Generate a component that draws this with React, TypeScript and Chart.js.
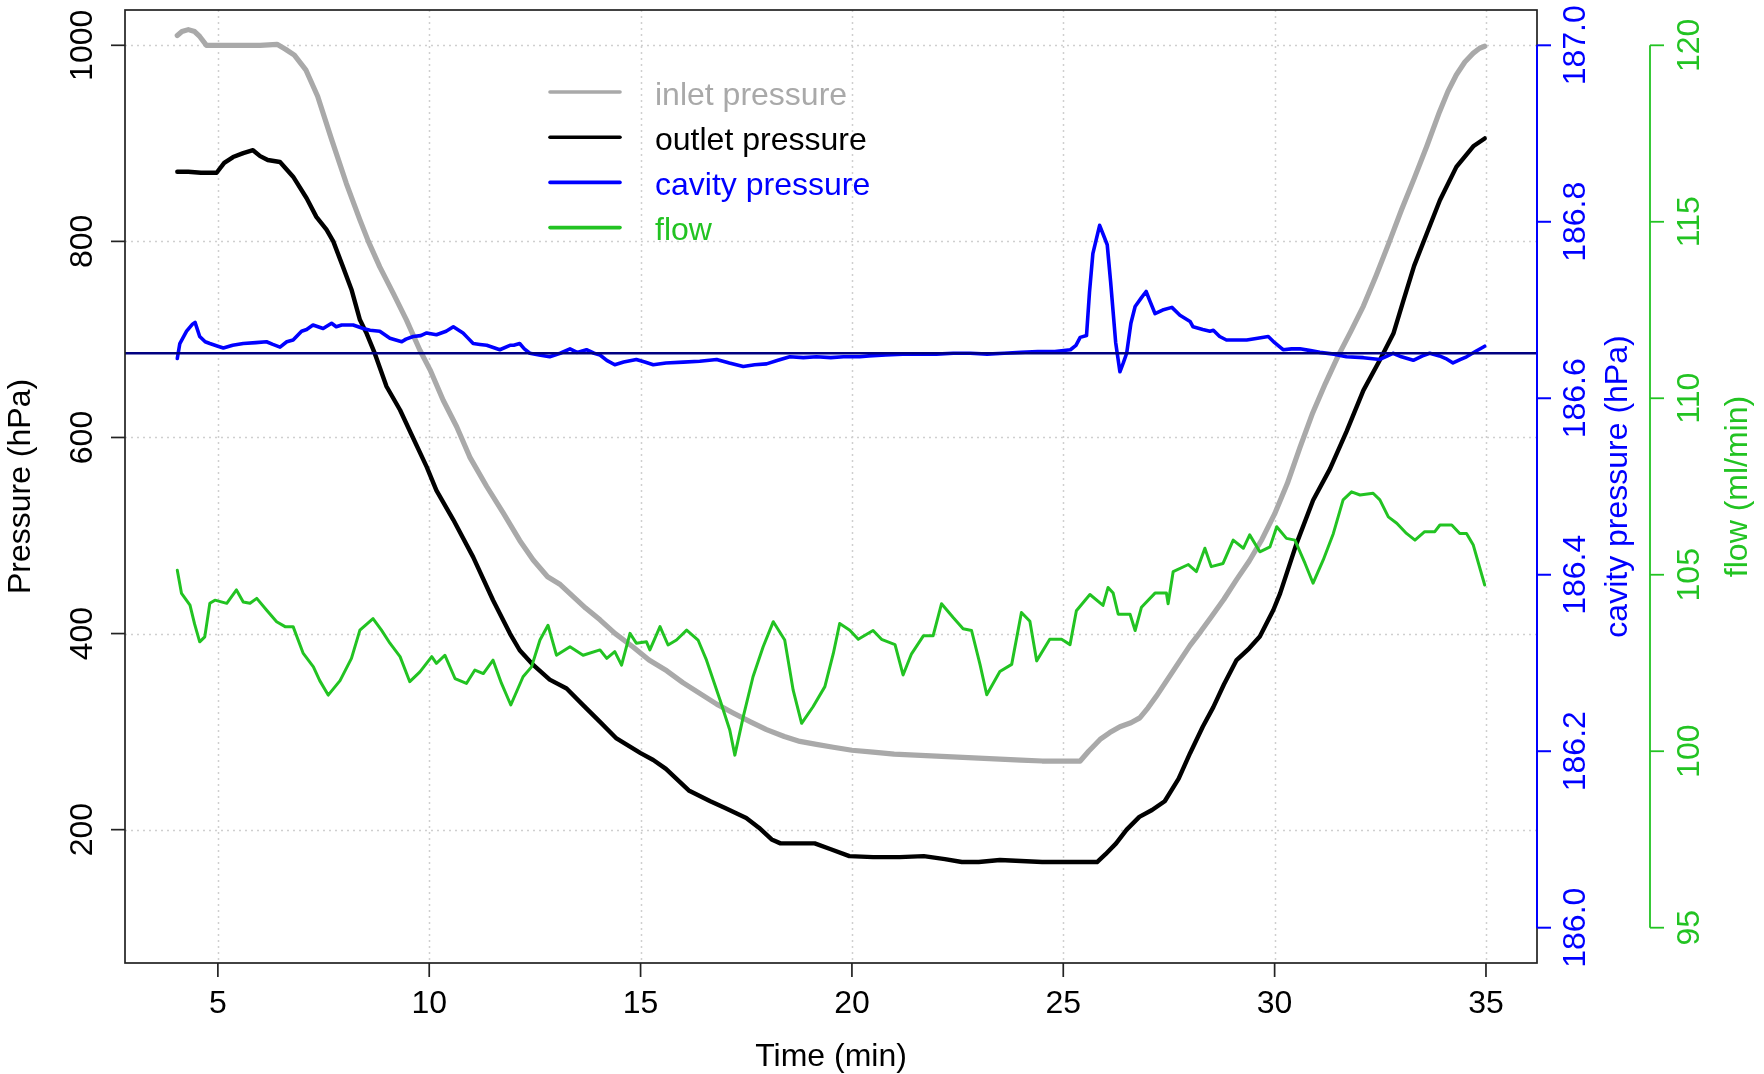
import React, { useEffect, useRef } from 'react';
import { Chart, registerables } from 'chart.js';

Chart.register(...registerables);

// ---------- data (time in min, value) ----------
const inletReadings: [number, number][] = [
  [4.04, 1010], [4.15, 1014], [4.3, 1016], [4.45, 1014], [4.57, 1009], [4.73, 1000], [5.0, 1000],
  [5.5, 1000], [6.0, 1000], [6.4, 1001], [6.6, 996], [6.81, 990], [7.08, 975], [7.36, 948],
  [7.69, 904], [8.04, 859], [8.36, 822], [8.56, 800], [8.83, 774], [9.15, 747], [9.46, 720],
  [9.78, 689], [10.02, 669], [10.33, 638], [10.65, 611], [10.96, 580], [11.36, 550], [11.75, 523],
  [12.14, 495], [12.46, 475], [12.8, 458],
  [13.1, 450], [13.4, 438], [13.7, 426], [14.04, 414], [14.4, 400], [14.83, 386], [15.2, 373],
  [15.62, 362], [16.0, 350], [16.4, 339], [16.8, 328], [17.19, 319], [17.6, 310], [17.98, 302],
  [18.4, 295], [18.77, 290], [19.16, 287], [19.56, 284], [20.0, 281], [20.5, 279], [21.0, 277],
  [21.5, 276], [22.0, 275], [22.5, 274], [23.0, 273], [23.5, 272], [24.0, 271], [24.5, 270],
  [25.0, 270], [25.4, 270], [25.6, 280], [25.87, 292], [26.1, 299], [26.34, 305], [26.6, 309],
  [26.81, 314], [27.0, 324], [27.2, 336], [27.4, 349], [27.6, 362], [27.8, 375], [28.0, 388],
  [28.25, 402], [28.5, 417], [28.8, 435], [29.1, 455], [29.4, 474], [29.7, 496], [30.0, 522],
  [30.3, 553], [30.6, 590], [30.9, 625], [31.2, 655], [31.5, 683], [31.8, 708], [32.1, 734],
  [32.4, 765], [32.7, 798], [33.0, 832], [33.3, 864], [33.6, 897], [33.9, 932], [34.1, 953],
  [34.3, 970], [34.5, 983], [34.7, 992], [34.85, 997], [34.97, 999],
];

const outletReadings: [number, number][] = [
  [4.04, 871], [4.3, 871], [4.6, 870], [4.97, 870], [5.15, 880], [5.36, 886], [5.6, 890],
  [5.83, 893], [6.0, 887], [6.18, 883], [6.47, 881], [6.78, 866], [7.1, 844], [7.33, 825],
  [7.57, 812], [7.73, 800], [7.96, 774], [8.16, 751], [8.36, 720], [8.52, 706], [8.71, 686],
  [8.99, 652], [9.31, 628], [9.58, 603], [9.94, 570], [10.17, 546], [10.57, 516], [11.04, 478],
  [11.51, 434],
  [11.91, 400], [12.14, 383], [12.46, 368], [12.85, 353], [13.25, 344], [13.64, 327], [14.04, 310],
  [14.43, 293], [15.0, 278], [15.3, 271], [15.6, 262], [16.14, 240], [16.65, 229], [17.0, 222],
  [17.5, 212], [17.8, 202], [18.1, 190], [18.31, 186], [19.12, 186], [19.5, 180], [19.94, 173],
  [20.5, 172], [21.13, 172], [21.7, 173], [22.2, 170], [22.6, 167], [23.0, 167], [23.5, 169],
  [24.0, 168], [24.5, 167], [25.0, 167], [25.5, 167], [25.8, 167], [26.0, 175], [26.25, 186],
  [26.5, 200], [26.8, 213], [27.1, 220], [27.4, 229], [27.73, 252], [28.0, 278], [28.3, 305],
  [28.55, 325], [28.8, 348], [29.1, 373], [29.4, 385], [29.65, 397], [29.97, 424], [30.13, 441],
  [30.52, 492], [30.91, 536], [31.31, 568], [31.7, 606], [32.1, 648], [32.49, 679], [32.81, 706],
  [33.05, 740], [33.3, 775], [33.6, 808], [33.91, 842], [34.3, 876], [34.7, 897], [34.97, 905],
];

const cavityReadings: [number, number][] = [
  [4.04, 186.645], [4.1, 186.662], [4.26, 186.676], [4.4, 186.684], [4.46, 186.686], [4.57, 186.670],
  [4.7, 186.664], [4.81, 186.662], [5.0, 186.659], [5.13, 186.657], [5.35, 186.660], [5.6, 186.662],
  [5.9, 186.663], [6.15, 186.664], [6.3, 186.661], [6.47, 186.658], [6.63, 186.664], [6.78, 186.666],
  [6.98, 186.676], [7.1, 186.678], [7.25, 186.683], [7.49, 186.679], [7.69, 186.685], [7.8, 186.681],
  [7.93, 186.683], [8.2, 186.683], [8.44, 186.679], [8.6, 186.677], [8.83, 186.676], [8.95, 186.672],
  [9.07, 186.668], [9.35, 186.664], [9.45, 186.667], [9.62, 186.670], [9.8, 186.671], [9.94, 186.674],
  [10.17, 186.672], [10.4, 186.676], [10.57, 186.681], [10.8, 186.674], [10.9, 186.669], [11.04, 186.662],
  [11.2, 186.661], [11.36, 186.660], [11.67, 186.655], [11.91, 186.660], [12.0, 186.660], [12.14, 186.662],
  [12.25, 186.656], [12.38, 186.651], [12.6, 186.649], [12.85, 186.647], [13.1, 186.651], [13.33, 186.656],
  [13.5, 186.652], [13.72, 186.655], [13.9, 186.651], [14.04, 186.649], [14.2, 186.643], [14.39, 186.638],
  [14.6, 186.641], [14.9, 186.644], [15.1, 186.641], [15.3, 186.638], [15.6, 186.640], [16.01, 186.641],
  [16.4, 186.642], [16.8, 186.644], [17.1, 186.640], [17.43, 186.636], [17.7, 186.638], [17.98, 186.639],
  [18.25, 186.643], [18.53, 186.647], [18.85, 186.646], [19.16, 186.647], [19.5, 186.646], [19.8, 186.647],
  [20.19, 186.647], [20.4, 186.648], [20.8, 186.649], [21.2, 186.650], [21.6, 186.650], [22.0, 186.650],
  [22.4, 186.651], [22.8, 186.651], [23.2, 186.650], [23.6, 186.651], [24.0, 186.652], [24.4, 186.653],
  [24.8, 186.653], [25.17, 186.655], [25.3, 186.660], [25.4, 186.669], [25.55, 186.671], [25.62, 186.720],
  [25.7, 186.764], [25.86, 186.796], [25.95, 186.785], [26.04, 186.774], [26.12, 186.732], [26.24, 186.663],
  [26.34, 186.630], [26.42, 186.640], [26.5, 186.651], [26.6, 186.685], [26.7, 186.704], [26.85, 186.714],
  [26.96, 186.721], [27.05, 186.710], [27.17, 186.696], [27.35, 186.700], [27.57, 186.703], [27.76, 186.694],
  [28.0, 186.687], [28.07, 186.681], [28.3, 186.678], [28.47, 186.676], [28.55, 186.677], [28.7, 186.670],
  [28.86, 186.666], [29.1, 186.666], [29.34, 186.666], [29.6, 186.668], [29.85, 186.670], [30.0, 186.663],
  [30.2, 186.655], [30.4, 186.656], [30.6, 186.656], [30.85, 186.654], [31.07, 186.652], [31.4, 186.650],
  [31.7, 186.647], [32.1, 186.646], [32.49, 186.644], [32.8, 186.651], [33.0, 186.647], [33.28, 186.643],
  [33.5, 186.648], [33.67, 186.651], [33.9, 186.648], [34.05, 186.645], [34.22, 186.640], [34.4, 186.644],
  [34.54, 186.647], [34.75, 186.653], [34.97, 186.659],
];

const flowReadings: [number, number][] = [
  [4.04, 105.13], [4.14, 104.47], [4.34, 104.14], [4.45, 103.6], [4.57, 103.1], [4.69, 103.24],
  [4.81, 104.19], [4.93, 104.28], [5.21, 104.19], [5.44, 104.57], [5.6, 104.23], [5.76, 104.19],
  [5.92, 104.33], [6.15, 104.0], [6.39, 103.67], [6.59, 103.53], [6.78, 103.53], [7.02, 102.77],
  [7.26, 102.39], [7.41, 102.0], [7.61, 101.59], [7.89, 102.0], [8.16, 102.63], [8.36, 103.43],
  [8.67, 103.76], [8.87, 103.43], [9.07, 103.06], [9.31, 102.68], [9.54, 101.97], [9.78, 102.25],
  [10.06, 102.68], [10.17, 102.49], [10.37, 102.72], [10.61, 102.06], [10.88, 101.92], [11.08, 102.3],
  [11.28, 102.2], [11.51, 102.58], [11.71, 101.92], [11.93, 101.31], [12.22, 102.11], [12.42, 102.39],
  [12.62, 103.15], [12.81, 103.57], [13.01, 102.72], [13.33, 102.96], [13.64, 102.72], [14.04, 102.87],
  [14.2, 102.63], [14.39, 102.82], [14.55, 102.44], [14.75, 103.34], [14.9, 103.06], [15.14, 103.1],
  [15.22, 102.87], [15.46, 103.53], [15.65, 103.01], [15.85, 103.15], [16.09, 103.43], [16.36, 103.15],
  [16.56, 102.58], [16.88, 101.45], [17.11, 100.6], [17.23, 99.89], [17.43, 100.98], [17.66, 102.11],
  [17.9, 102.96], [18.14, 103.67], [18.41, 103.15], [18.61, 101.73], [18.81, 100.79], [19.08, 101.26],
  [19.36, 101.83], [19.56, 102.77], [19.71, 103.62], [19.95, 103.43], [20.15, 103.17], [20.5, 103.42],
  [20.7, 103.17], [21.02, 103.02], [21.21, 102.16], [21.41, 102.76], [21.69, 103.27], [21.92, 103.27],
  [22.12, 104.18], [22.4, 103.78], [22.63, 103.47], [22.83, 103.42], [23.03, 102.46], [23.19, 101.6],
  [23.5, 102.26], [23.78, 102.46], [24.01, 103.93], [24.21, 103.68], [24.37, 102.56], [24.68, 103.17],
  [24.96, 103.17], [25.16, 103.02], [25.31, 103.98], [25.63, 104.44], [25.94, 104.13], [26.06, 104.64],
  [26.18, 104.48], [26.3, 103.88], [26.58, 103.88], [26.7, 103.42], [26.85, 104.08], [27.17, 104.48],
  [27.44, 104.48], [27.48, 104.18], [27.6, 105.09], [27.96, 105.29], [28.15, 105.09], [28.35, 105.75],
  [28.5, 105.23], [28.78, 105.32], [29.02, 105.98], [29.26, 105.75], [29.41, 106.13], [29.65, 105.65],
  [29.89, 105.79], [30.05, 106.36], [30.28, 106.03], [30.48, 105.98], [30.72, 105.32], [30.91, 104.76],
  [31.15, 105.42], [31.39, 106.17], [31.62, 107.12], [31.82, 107.35], [32.02, 107.26], [32.33, 107.31],
  [32.49, 107.12], [32.69, 106.64], [32.89, 106.46], [33.12, 106.17], [33.32, 105.98], [33.55, 106.22],
  [33.79, 106.22], [33.91, 106.41], [34.19, 106.41], [34.38, 106.17], [34.54, 106.17], [34.7, 105.84],
  [34.97, 104.71],
];

const cavityReference = 186.651;

const timeRange: [number, number] = [4.04, 34.97];
const pressureRange: [number, number] = [100, 1000];
const cavityRange: [number, number] = [186, 187];
const flowRange: [number, number] = [95, 120];

const timeTicks = [5, 10, 15, 20, 25, 30, 35];
const pressureTicks = [200, 400, 600, 800, 1000];
const cavityTicks = [186.0, 186.2, 186.4, 186.6, 186.8, 187.0];
const flowTicks = [95, 100, 105, 110, 115, 120];

const seriesNames = ['inlet pressure', 'outlet pressure', 'cavity pressure', 'flow'];
const axisTitles = { x: 'Time (min)', y: 'Pressure (hPa)', cavity: 'cavity pressure (hPa)', flow: 'flow (ml/min)' };

// ---------- styles ----------
const W = 1764;
const H = 1074;
const GRAY = '#A9A9A9';
const BLACK = '#000000';
const BLUE = '#0000FF';
const GREEN = '#22C322';
const NAVY = '#000080';
const seriesColors = [GRAY, BLACK, BLUE, GREEN];
const FONT = '32px "Liberation Sans", Arial, Helvetica, sans-serif';

const padRange = (r: [number, number]) => {
  const d = (r[1] - r[0]) * 0.04;
  return { min: r[0] - d, max: r[1] + d };
};

const toPoints = (rows: [number, number][]) => rows.map(([x, y]) => ({ x, y }));

const fixedTicks = (values: number[]) => (scale: any) => {
  scale.ticks = values.map((value) => ({ value }));
};

function rotatedText(ctx: CanvasRenderingContext2D, text: string, x: number, y: number, color: string) {
  ctx.save();
  ctx.translate(x, y);
  ctx.rotate(-Math.PI / 2);
  ctx.fillStyle = color;
  ctx.textAlign = 'center';
  ctx.textBaseline = 'alphabetic';
  ctx.fillText(text, 0, 0);
  ctx.restore();
}

const rStylePlugin = {
  id: 'rStyle',
  beforeDatasetsDraw(chart: any) {
    const { ctx, chartArea: a, scales } = chart;
    ctx.save();
    ctx.strokeStyle = '#CFCFCF';
    ctx.lineWidth = 1.5;
    ctx.setLineDash([2, 4]);
    for (const t of scales.x.ticks) {
      const px = Math.round(scales.x.getPixelForValue(t.value)) + 0.5;
      ctx.beginPath(); ctx.moveTo(px, a.top); ctx.lineTo(px, a.bottom); ctx.stroke();
    }
    for (const t of scales.y.ticks) {
      const py = Math.round(scales.y.getPixelForValue(t.value)) + 0.5;
      ctx.beginPath(); ctx.moveTo(a.left, py); ctx.lineTo(a.right, py); ctx.stroke();
    }
    ctx.restore();
  },
  afterDatasetDraw(chart: any, args: any) {
    if (args.meta.yAxisID !== 'yCav') return;
    const { ctx, chartArea: a, scales } = chart;
    const py = scales.yCav.getPixelForValue(cavityReference);
    ctx.save();
    ctx.strokeStyle = NAVY;
    ctx.lineWidth = 2.5;
    ctx.beginPath(); ctx.moveTo(a.left, py); ctx.lineTo(a.right, py); ctx.stroke();
    ctx.restore();
  },
  afterDraw(chart: any) {
    const { ctx, chartArea: a, scales } = chart;
    const midY = (a.top + a.bottom) / 2;
    ctx.save();
    ctx.font = FONT;
    // box
    ctx.strokeStyle = '#222222';
    ctx.lineWidth = 1.7;
    ctx.strokeRect(a.left, a.top, a.right - a.left, a.bottom - a.top);

    // x axis
    ctx.fillStyle = BLACK;
    ctx.textAlign = 'center';
    ctx.textBaseline = 'alphabetic';
    for (const t of scales.x.ticks) {
      const px = scales.x.getPixelForValue(t.value);
      ctx.beginPath(); ctx.moveTo(px, a.bottom); ctx.lineTo(px, a.bottom + 14); ctx.stroke();
      ctx.fillText(String(t.value), px, a.bottom + 50);
    }
    ctx.fillText(axisTitles.x, (a.left + a.right) / 2, a.bottom + 103);

    // left y axis
    for (const t of scales.y.ticks) {
      const py = scales.y.getPixelForValue(t.value);
      ctx.beginPath(); ctx.moveTo(a.left - 14, py); ctx.lineTo(a.left, py); ctx.stroke();
      rotatedText(ctx, String(t.value), a.left - 33, py, BLACK);
    }
    rotatedText(ctx, axisTitles.y, a.left - 95, midY, BLACK);

    // cavity axis (right, on the box)
    const cav = scales.yCav;
    const cTop = cav.getPixelForValue(cavityRange[1]);
    const cBot = cav.getPixelForValue(cavityRange[0]);
    ctx.strokeStyle = BLUE;
    ctx.lineWidth = 2;
    ctx.beginPath(); ctx.moveTo(a.right, cTop); ctx.lineTo(a.right, cBot); ctx.stroke();
    for (const t of cav.ticks) {
      const py = cav.getPixelForValue(t.value);
      ctx.beginPath(); ctx.moveTo(a.right, py); ctx.lineTo(a.right + 14, py); ctx.stroke();
      rotatedText(ctx, Number(t.value).toFixed(1), a.right + 48, py, BLUE);
    }
    rotatedText(ctx, axisTitles.cavity, a.right + 90, midY, BLUE);

    // flow axis (further right)
    const fl = scales.yFlow;
    const fx = a.right + 113;
    const fTop = fl.getPixelForValue(flowRange[1]);
    const fBot = fl.getPixelForValue(flowRange[0]);
    ctx.strokeStyle = GREEN;
    ctx.lineWidth = 1.8;
    ctx.beginPath(); ctx.moveTo(fx, fTop); ctx.lineTo(fx, fBot); ctx.stroke();
    for (const t of fl.ticks) {
      const py = fl.getPixelForValue(t.value);
      ctx.beginPath(); ctx.moveTo(fx, py); ctx.lineTo(fx + 14, py); ctx.stroke();
      rotatedText(ctx, String(t.value), fx + 49, py, GREEN);
    }
    rotatedText(ctx, axisTitles.flow, fx + 97, midY, GREEN);

    // legend
    const lx = 550, ly = 92, step = 45.2;
    ctx.textAlign = 'left';
    ctx.textBaseline = 'alphabetic';
    ctx.lineCap = 'round';
    seriesNames.forEach((name, i) => {
      const y = ly + i * step;
      ctx.strokeStyle = seriesColors[i];
      ctx.lineWidth = 3.6;
      ctx.beginPath(); ctx.moveTo(lx, y); ctx.lineTo(lx + 70, y); ctx.stroke();
      ctx.fillStyle = seriesColors[i];
      ctx.fillText(name, lx + 105, y + 12.5);
    });
    ctx.restore();
  },
};

export default function App() {
  const ref = useRef<HTMLCanvasElement | null>(null);

  useEffect(() => {
    if (!ref.current) return;
    const common = {
      pointRadius: 0,
      pointHoverRadius: 0,
      tension: 0,
      fill: false,
      borderCapStyle: 'round' as const,
      borderJoinStyle: 'round' as const,
    };
    const chart = new Chart(ref.current, {
      type: 'line',
      data: {
        datasets: [
          { ...common, label: seriesNames[0], data: toPoints(inletReadings), borderColor: GRAY, borderWidth: 5.2, yAxisID: 'y', order: 4 },
          { ...common, label: seriesNames[1], data: toPoints(outletReadings), borderColor: BLACK, borderWidth: 4.4, yAxisID: 'y', order: 3 },
          { ...common, label: seriesNames[2], data: toPoints(cavityReadings), borderColor: BLUE, borderWidth: 3.6, yAxisID: 'yCav', order: 2 },
          { ...common, label: seriesNames[3], data: toPoints(flowReadings), borderColor: GREEN, borderWidth: 3, yAxisID: 'yFlow', order: 1 },
        ],
      },
      options: {
        animation: false,
        responsive: false,
        maintainAspectRatio: false,
        devicePixelRatio: 1,
        events: [],
        layout: { padding: { left: 125, right: W - 1537, top: 10, bottom: H - 963 } },
        plugins: { legend: { display: false }, tooltip: { enabled: false } },
        scales: {
          x: { type: 'linear', display: false, ...padRange(timeRange), afterBuildTicks: fixedTicks(timeTicks) },
          y: { type: 'linear', display: false, ...padRange(pressureRange), afterBuildTicks: fixedTicks(pressureTicks) },
          yCav: { type: 'linear', display: false, ...padRange(cavityRange), afterBuildTicks: fixedTicks(cavityTicks) },
          yFlow: { type: 'linear', display: false, ...padRange(flowRange), afterBuildTicks: fixedTicks(flowTicks) },
        },
      } as any,
      plugins: [rStylePlugin],
    });
    return () => chart.destroy();
  }, []);

  return (
    <div style={{ position: 'absolute', left: 0, top: 0, width: W, height: H, background: '#ffffff', overflow: 'hidden' }}>
      <canvas ref={ref} width={W} height={H} style={{ display: 'block', width: W, height: H }} />
    </div>
  );
}
